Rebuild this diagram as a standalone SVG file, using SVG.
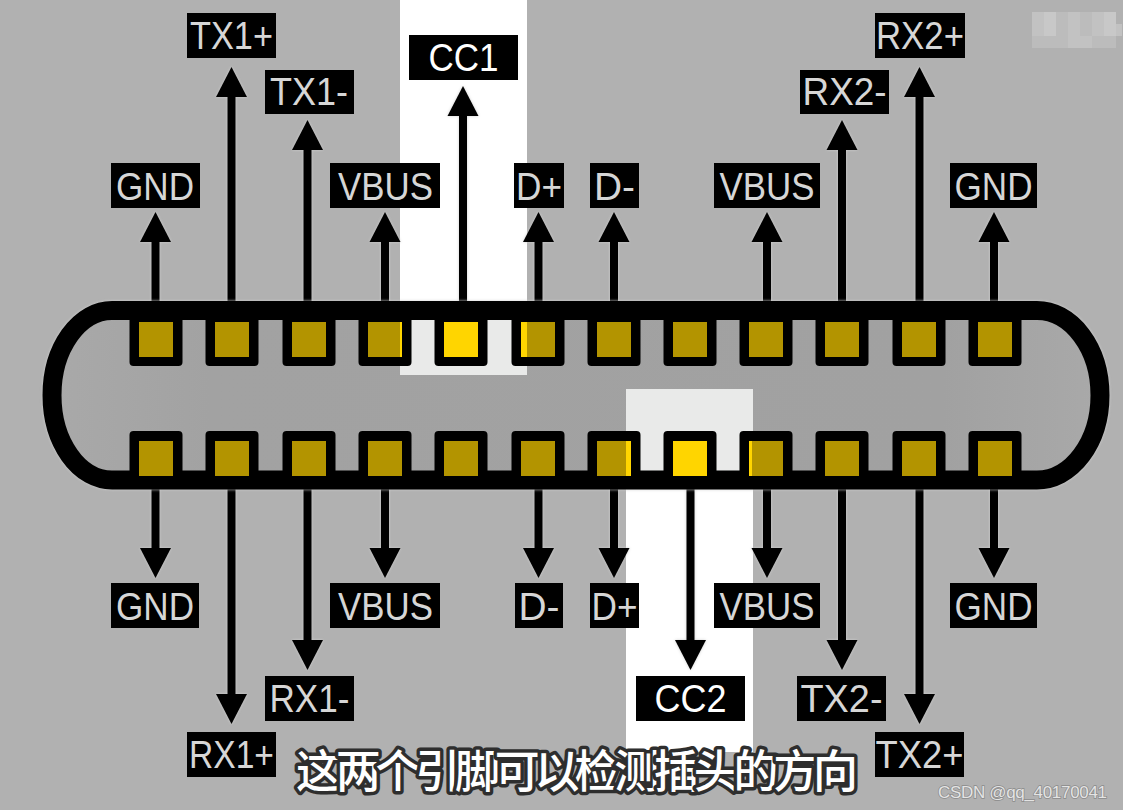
<svg xmlns="http://www.w3.org/2000/svg" width="1123" height="810" viewBox="0 0 1123 810">
<style>
.lb{fill:#000}
.t{font-family:"Liberation Sans",Arial,sans-serif;font-size:38px;fill:#d6d6d6;text-anchor:middle}
.w{fill:#fff}
.pad{fill:#000}
.gold{fill:#b39400}
.hot{fill:#ffd500}
.cn{fill:none;stroke:#000;stroke-width:8;marker-end:url(#ah)}
.halo{filter:drop-shadow(0 0 1.500px #cfcfcf)}
.m1{fill:#c8c8c8}
.m2{fill:#c2c2c2}
.m3{fill:#bcbcbc}
</style>
<defs>
<marker id="ah" markerUnits="userSpaceOnUse" markerWidth="32" markerHeight="32" refX="1" refY="16" orient="auto" viewBox="0 0 32 32"><path d="M0 0.500 L30 16 L0 31.500 Z" fill="#000"/></marker>
<linearGradient id="inner" x1="0" x2="1" y1="0" y2="0"><stop offset="0" stop-color="#a9a9a9"/><stop offset=".15" stop-color="#a2a2a2"/><stop offset=".85" stop-color="#a1a1a1"/><stop offset="1" stop-color="#a9a9a9"/></linearGradient>
</defs>
<rect width="1123" height="810" fill="#b1b1b1"/>
<g id="highlights">
<rect x="400" y="0" width="127" height="311" fill="#fff"/>
<rect x="626" y="480" width="127" height="272" fill="#fff"/>
</g>
<g id="connectors" class="halo">
<path class="cn" d="M155.500 311V241"/>
<path class="cn" d="M231.500 311V96"/>
<path class="cn" d="M307.500 311V149"/>
<path class="cn" d="M385 311V241"/>
<path class="cn" d="M463 311V115"/>
<path class="cn" d="M538.500 311V241"/>
<path class="cn" d="M614 311V241"/>
<path class="cn" d="M767 311V241"/>
<path class="cn" d="M842 311V149"/>
<path class="cn" d="M919.500 311V96"/>
<path class="cn" d="M994 311V241"/>
<path class="cn" d="M155.500 480V549"/>
<path class="cn" d="M231.500 480V695"/>
<path class="cn" d="M307.500 480V641"/>
<path class="cn" d="M385 480V549"/>
<path class="cn" d="M538.500 480V549"/>
<path class="cn" d="M614 480V549"/>
<path class="cn" d="M690.500 480V641"/>
<path class="cn" d="M767 480V549"/>
<path class="cn" d="M842 480V641"/>
<path class="cn" d="M919.500 480V695"/>
<path class="cn" d="M994 480V549"/>
</g>
<g id="housing" class="halo">
<path id="housing-fill" d="M112 310.500H1037A63 84.750 0 0 1 1037 480H112A60 84.750 0 0 1 112 310.500Z" fill="url(#inner)"/>
<rect x="400" y="311" width="127" height="64" fill="#e9eae9"/>
<rect x="626" y="389" width="127" height="91" fill="#e9eae9"/>
<path d="M112 310.500H1037A63 84.750 0 0 1 1037 480H112A60 84.750 0 0 1 112 310.500Z" fill="none" stroke="#000" stroke-width="19"/>
</g>
<g id="pads-top">
<g id="pt1"><rect class="pad" x="129.500" y="310" width="53" height="56" rx="4"/><rect class="gold" x="139" y="322" width="34" height="35"/></g>
<g id="pt2"><rect class="pad" x="205.500" y="310" width="53" height="56" rx="4"/><rect class="gold" x="215" y="322" width="34" height="35"/></g>
<g id="pt3"><rect class="pad" x="282.500" y="310" width="53" height="56" rx="4"/><rect class="gold" x="292" y="322" width="34" height="35"/></g>
<g id="pt4"><rect class="pad" x="358.500" y="310" width="53" height="56" rx="4"/><rect class="gold" x="368" y="322" width="34" height="35"/><rect class="hot" x="400" y="322" width="2" height="35"/></g>
<g id="pt5"><rect class="pad" x="434.500" y="310" width="53" height="56" rx="4"/><rect class="hot" x="444" y="322" width="34" height="35"/></g>
<g id="pt6"><rect class="pad" x="511.500" y="310" width="53" height="56" rx="4"/><rect class="gold" x="521" y="322" width="34" height="35"/><rect class="hot" x="521" y="322" width="6" height="35"/></g>
<g id="pt7"><rect class="pad" x="587.500" y="310" width="53" height="56" rx="4"/><rect class="gold" x="597" y="322" width="34" height="35"/></g>
<g id="pt8"><rect class="pad" x="663.500" y="310" width="53" height="56" rx="4"/><rect class="gold" x="673" y="322" width="34" height="35"/></g>
<g id="pt9"><rect class="pad" x="739.500" y="310" width="53" height="56" rx="4"/><rect class="gold" x="749" y="322" width="34" height="35"/></g>
<g id="pt10"><rect class="pad" x="815.500" y="310" width="53" height="56" rx="4"/><rect class="gold" x="825" y="322" width="34" height="35"/></g>
<g id="pt11"><rect class="pad" x="892.500" y="310" width="53" height="56" rx="4"/><rect class="gold" x="902" y="322" width="34" height="35"/></g>
<g id="pt12"><rect class="pad" x="968.500" y="310" width="53" height="56" rx="4"/><rect class="gold" x="978" y="322" width="34" height="35"/></g>
</g>
<g id="pads-bottom">
<g id="pb1"><rect class="pad" x="129.500" y="431" width="53" height="56" rx="4"/><rect class="gold" x="139" y="441" width="34" height="35"/></g>
<g id="pb2"><rect class="pad" x="205.500" y="431" width="53" height="56" rx="4"/><rect class="gold" x="215" y="441" width="34" height="35"/></g>
<g id="pb3"><rect class="pad" x="282.500" y="431" width="53" height="56" rx="4"/><rect class="gold" x="292" y="441" width="34" height="35"/></g>
<g id="pb4"><rect class="pad" x="358.500" y="431" width="53" height="56" rx="4"/><rect class="gold" x="368" y="441" width="34" height="35"/></g>
<g id="pb5"><rect class="pad" x="434.500" y="431" width="53" height="56" rx="4"/><rect class="gold" x="444" y="441" width="34" height="35"/></g>
<g id="pb6"><rect class="pad" x="511.500" y="431" width="53" height="56" rx="4"/><rect class="gold" x="521" y="441" width="34" height="35"/></g>
<g id="pb7"><rect class="pad" x="587.500" y="431" width="53" height="56" rx="4"/><rect class="gold" x="597" y="441" width="34" height="35"/><rect class="hot" x="626" y="441" width="5" height="35"/></g>
<g id="pb8"><rect class="pad" x="663.500" y="431" width="53" height="56" rx="4"/><rect class="hot" x="673" y="441" width="34" height="35"/></g>
<g id="pb9"><rect class="pad" x="739.500" y="431" width="53" height="56" rx="4"/><rect class="gold" x="749" y="441" width="34" height="35"/><rect class="hot" x="749" y="441" width="3" height="35"/></g>
<g id="pb10"><rect class="pad" x="815.500" y="431" width="53" height="56" rx="4"/><rect class="gold" x="825" y="441" width="34" height="35"/></g>
<g id="pb11"><rect class="pad" x="892.500" y="431" width="53" height="56" rx="4"/><rect class="gold" x="902" y="441" width="34" height="35"/></g>
<g id="pb12"><rect class="pad" x="968.500" y="431" width="53" height="56" rx="4"/><rect class="gold" x="978" y="441" width="34" height="35"/></g>
</g>
<g id="label-gnd-t1"><rect class="lb" x="111" y="163" width="89" height="45"/><text class="t" x="155" y="200" textLength="78" lengthAdjust="spacingAndGlyphs">GND</text></g>
<g id="label-tx1p"><rect class="lb" x="187" y="13" width="89" height="45"/><text class="t" x="231.500" y="49" textLength="83" lengthAdjust="spacingAndGlyphs">TX1+</text></g>
<g id="label-tx1m"><rect class="lb" x="265" y="70" width="89" height="44"/><text class="t" x="309" y="105" textLength="78" lengthAdjust="spacingAndGlyphs">TX1-</text></g>
<g id="label-vbus-t1"><rect class="lb" x="330" y="163" width="110" height="45"/><text class="t" x="385.500" y="200" textLength="95" lengthAdjust="spacingAndGlyphs">VBUS</text></g>
<g id="label-cc1"><rect class="lb" x="409" y="35" width="109" height="45"/><text class="t w" x="463.500" y="71" textLength="70" lengthAdjust="spacingAndGlyphs">CC1</text></g>
<g id="label-dp-t"><rect class="lb" x="514" y="163" width="50" height="45"/><text class="t" x="539" y="200" textLength="46" lengthAdjust="spacingAndGlyphs">D+</text></g>
<g id="label-dm-t"><rect class="lb" x="590" y="163" width="49" height="45"/><text class="t" x="614.500" y="200" textLength="41" lengthAdjust="spacingAndGlyphs">D-</text></g>
<g id="label-vbus-t2"><rect class="lb" x="714" y="163" width="106" height="45"/><text class="t" x="767" y="200" textLength="95" lengthAdjust="spacingAndGlyphs">VBUS</text></g>
<g id="label-rx2m"><rect class="lb" x="800" y="70" width="89" height="44"/><text class="t" x="844.500" y="105" textLength="84" lengthAdjust="spacingAndGlyphs">RX2-</text></g>
<g id="label-rx2p"><rect class="lb" x="875" y="13" width="90" height="45"/><text class="t" x="920" y="49" textLength="88" lengthAdjust="spacingAndGlyphs">RX2+</text></g>
<g id="label-gnd-t2"><rect class="lb" x="950" y="163" width="87" height="45"/><text class="t" x="993.500" y="200" textLength="78" lengthAdjust="spacingAndGlyphs">GND</text></g>
<g id="label-gnd-b1"><rect class="lb" x="111" y="583" width="88" height="45"/><text class="t" x="155" y="620" textLength="78" lengthAdjust="spacingAndGlyphs">GND</text></g>
<g id="label-rx1p"><rect class="lb" x="187" y="732" width="89" height="45"/><text class="t" x="231.500" y="768" textLength="85" lengthAdjust="spacingAndGlyphs">RX1+</text></g>
<g id="label-rx1m"><rect class="lb" x="265" y="676" width="89" height="45"/><text class="t" x="309.500" y="712" textLength="80" lengthAdjust="spacingAndGlyphs">RX1-</text></g>
<g id="label-vbus-b1"><rect class="lb" x="330" y="583" width="110" height="45"/><text class="t" x="385.500" y="620" textLength="95" lengthAdjust="spacingAndGlyphs">VBUS</text></g>
<g id="label-dm-b"><rect class="lb" x="515" y="583" width="48" height="45"/><text class="t" x="539" y="620" textLength="41" lengthAdjust="spacingAndGlyphs">D-</text></g>
<g id="label-dp-b"><rect class="lb" x="590" y="583" width="49" height="45"/><text class="t" x="614.500" y="620" textLength="46" lengthAdjust="spacingAndGlyphs">D+</text></g>
<g id="label-vbus-b2"><rect class="lb" x="714" y="583" width="106" height="45"/><text class="t" x="767" y="620" textLength="95" lengthAdjust="spacingAndGlyphs">VBUS</text></g>
<g id="label-cc2"><rect class="lb" x="636" y="676" width="109" height="45"/><text class="t w" x="690.500" y="712" textLength="72" lengthAdjust="spacingAndGlyphs">CC2</text></g>
<g id="label-tx2m"><rect class="lb" x="797" y="676" width="89" height="45"/><text class="t" x="841.500" y="712" textLength="82" lengthAdjust="spacingAndGlyphs">TX2-</text></g>
<g id="label-tx2p"><rect class="lb" x="875" y="732" width="89" height="45"/><text class="t" x="919.500" y="768" textLength="88" lengthAdjust="spacingAndGlyphs">TX2+</text></g>
<g id="label-gnd-b2"><rect class="lb" x="950" y="583" width="87" height="45"/><text class="t" x="993.500" y="620" textLength="78" lengthAdjust="spacingAndGlyphs">GND</text></g>
<g id="mosaic">
<rect class="m2" x="1032" y="12" width="12" height="12"/><rect class="m1" x="1044" y="12" width="12" height="12"/><rect class="m3" x="1056" y="12" width="12" height="12"/><rect class="m2" x="1068" y="12" width="12" height="12"/><rect class="m3" x="1080" y="12" width="12" height="12"/><rect class="m2" x="1092" y="12" width="12" height="12"/><rect class="m1" x="1104" y="12" width="12" height="12"/>
<rect class="m2" x="1032" y="24" width="12" height="12"/><rect class="m1" x="1044" y="24" width="12" height="12"/><rect class="m3" x="1056" y="24" width="12" height="12"/><rect class="m2" x="1068" y="24" width="12" height="12"/><rect class="m3" x="1080" y="24" width="12" height="12"/><rect class="m2" x="1092" y="24" width="12" height="12"/><rect class="m1" x="1104" y="24" width="12" height="12"/><rect class="m2" x="1116" y="24" width="6" height="12"/>
<rect class="m3" x="1032" y="36" width="24" height="12"/><rect class="m3" x="1056" y="36" width="12" height="12"/><rect class="m2" x="1068" y="36" width="24" height="12"/><rect class="m3" x="1092" y="36" width="24" height="12"/>
</g>
<text id="subtitle" x="577" y="788" text-anchor="middle" textLength="562" style="font-family:'Noto Sans CJK SC',sans-serif;font-size:45px;font-weight:500;fill:#fff;stroke:#2e2e2e;stroke-width:7px;paint-order:stroke;stroke-linejoin:round">这两个引脚可以检测插头的方向</text>
<text id="watermark" x="938" y="798" textLength="169" style="font-family:'Liberation Sans',Arial,sans-serif;font-size:17px;fill:#e4e4e4;stroke:#8a8a8a;stroke-width:1.500px;paint-order:stroke">CSDN @qq_40170041</text>
</svg>
